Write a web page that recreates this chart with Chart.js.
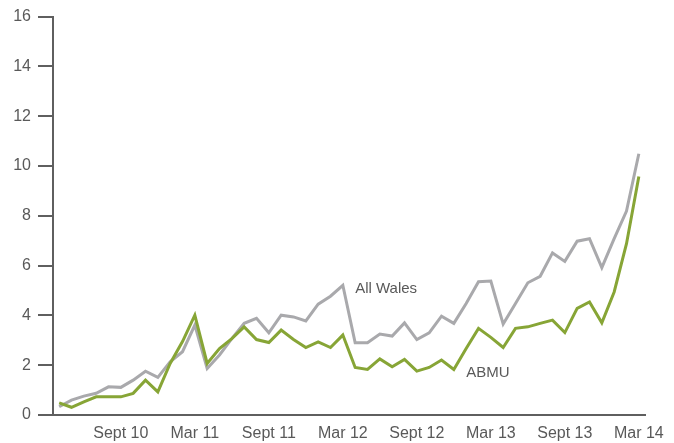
<!DOCTYPE html>
<html>
<head>
<meta charset="utf-8">
<script src="https://cdn.jsdelivr.net/npm/chart.js@4.4.1/dist/chart.umd.min.js"></script>
<style>
  html, body { margin: 0; padding: 0; background: #fff; }
  #wrap { width: 674px; height: 443px; }
</style>
</head>
<body>
<div id="wrap"><canvas id="mycanvas"></canvas></div>
<script>
// monthly, April 2010 to March 2014
var months = [
  'Apr 10','May 10','Jun 10','Jul 10','Aug 10','Sept 10','Oct 10','Nov 10','Dec 10','Jan 11','Feb 11','Mar 11',
  'Apr 11','May 11','Jun 11','Jul 11','Aug 11','Sept 11','Oct 11','Nov 11','Dec 11','Jan 12','Feb 12','Mar 12',
  'Apr 12','May 12','Jun 12','Jul 12','Aug 12','Sept 12','Oct 12','Nov 12','Dec 12','Jan 13','Feb 13','Mar 13',
  'Apr 13','May 13','Jun 13','Jul 13','Aug 13','Sept 13','Oct 13','Nov 13','Dec 13','Jan 14','Feb 14','Mar 14'
];

var allWales = [
  0.33, 0.60, 0.76, 0.87, 1.13, 1.11, 1.40, 1.76, 1.51, 2.14, 2.54, 3.61,
  1.87, 2.41, 3.07, 3.68, 3.88, 3.30, 4.01, 3.94, 3.78, 4.45, 4.77, 5.21,
  2.90, 2.90, 3.25, 3.17, 3.70, 3.03, 3.30, 3.97, 3.68, 4.48, 5.35, 5.38,
  3.65, 4.48, 5.31, 5.57, 6.51, 6.17, 6.98, 7.08, 5.92, 7.08, 8.19, 10.49
];

var abmu = [
  0.49, 0.31, 0.53, 0.73, 0.73, 0.73, 0.87, 1.40, 0.93, 2.07, 2.95, 4.01,
  2.07, 2.67, 3.07, 3.54, 3.03, 2.91, 3.41, 3.03, 2.71, 2.94, 2.71, 3.21,
  1.91, 1.83, 2.25, 1.94, 2.23, 1.76, 1.91, 2.21, 1.83, 2.67, 3.48, 3.12,
  2.71, 3.48, 3.54, 3.68, 3.81, 3.31, 4.28, 4.54, 3.70, 4.94, 6.88, 9.58
];

var yTicks = [0, 2, 4, 6, 8, 10, 12, 14, 16];

// series labels written on the plot: [text, month index, value]
var seriesLabels = [
  ['All Wales', 24, 5.05],
  ['ABMU', 33, 1.70]
];

var textColor = '#595959';
var axisColor = '#5f5f5f';
var fontSpec = { family: '"Liberation Sans", Arial, sans-serif', size: 16 };

var labelPlugin = {
  id: 'seriesLabels',
  afterDatasetsDraw: function(chart) {
    var ctx = chart.ctx;
    var xs = chart.scales.x, ys = chart.scales.y;
    ctx.save();
    ctx.font = '15px "Liberation Sans", Arial, sans-serif';
    ctx.fillStyle = textColor;
    ctx.textAlign = 'left';
    ctx.textBaseline = 'middle';
    seriesLabels.forEach(function(l) {
      ctx.fillText(l[0], xs.getPixelForValue(l[1]), ys.getPixelForValue(l[2]));
    });
    ctx.restore();
  }
};

var ctx = document.getElementById('mycanvas');
var chart = new Chart(ctx, {
  type: 'line',
  data: {
    labels: months,
    datasets: [
      {
        label: 'ABMU',
        data: abmu,
        borderColor: '#87a536',
        borderWidth: 3,
        pointRadius: 0,
        tension: 0,
        fill: false
      },
      {
        label: 'All Wales',
        data: allWales,
        borderColor: '#a9a9ac',
        borderWidth: 3,
        pointRadius: 0,
        tension: 0,
        fill: false
      }
    ]
  },
  options: {
    responsive: true,
    maintainAspectRatio: false,
    animation: false,
    layout: { padding: { top: 16, right: 29, bottom: 0, left: 0 } },
    plugins: {
      legend: { display: false },
      tooltip: { enabled: false }
    },
    scales: {
      x: {
        type: 'category',
        offset: true,
        grid: { display: false, drawTicks: false },
        border: { display: true, color: axisColor, width: 2 },
        ticks: {
          autoSkip: false,
          maxRotation: 0,
          padding: 9,
          color: textColor,
          font: fontSpec,
          callback: function(val, i) {
            var m = months[i];
            return (m.indexOf('Sept') === 0 || m.indexOf('Mar') === 0) ? m : '';
          }
        },
        afterFit: function(scale) { scale.height = 28; }
      },
      y: {
        min: 0,
        max: 16,
        afterBuildTicks: function(scale) {
          scale.ticks = yTicks.map(function(v) { return { value: v }; });
        },
        grid: {
          drawOnChartArea: false,
          drawTicks: true,
          tickLength: 15,
          color: axisColor,
          lineWidth: 2
        },
        border: { display: true, color: axisColor, width: 2 },
        ticks: { padding: 7, color: textColor, font: fontSpec },
        afterFit: function(scale) { scale.width = 53; }
      }
    }
  },
  plugins: [labelPlugin]
});
</script>
</body>
</html>
